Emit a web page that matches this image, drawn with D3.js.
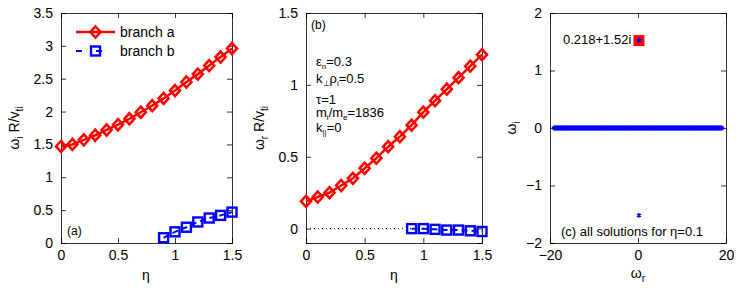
<!DOCTYPE html>
<html lang="en">
<head>
<meta charset="UTF-8">
<title>Branches</title>
<script src="https://cdn.jsdelivr.net/npm/d3@7"></script>
<style>
    body { margin: 0; background: #fff; }
    svg { font-family: "Liberation Sans", Arial, sans-serif; }
    .tick text { font-size: 14px; fill: #000; }
</style>
</head>
<body>
<svg id="svg" width="736" height="290"></svg>
<script>
// eta grid and the two branches
var eta = [0, 0.1, 0.2, 0.3, 0.4, 0.5, 0.6, 0.7, 0.8, 0.9, 1.0, 1.1, 1.2, 1.3, 1.4, 1.5];
var gammaA = [1.47, 1.50, 1.57, 1.64, 1.72, 1.80, 1.89, 1.99, 2.09, 2.20, 2.32, 2.45, 2.57, 2.70, 2.83, 2.96];
var etaB = [0.9, 1.0, 1.1, 1.2, 1.3, 1.4, 1.5];
var gammaB = [0.08, 0.17, 0.24, 0.32, 0.38, 0.42, 0.47];
var omegaA = [0.19, 0.22, 0.25, 0.30, 0.35, 0.42, 0.49, 0.57, 0.64, 0.72, 0.81, 0.89, 0.97, 1.05, 1.13, 1.21];
var omegaB = [0, 0, -0.005, -0.01, -0.01, -0.015, -0.02];
var dottedEta = [0, 0.9];

// all solutions for eta = 0.1
var contRe = [-19.1, -18.5, -18, -17.5, -17, -16.5, -16, -15.5, -15, -14.5, -14, -13.5, -13, -12.5, -12,
    -11.5, -11, -10.5, -10, -9.5, -9, -8.5, -8, -7.5, -7, -6.5, -6, -5.5, -5, -4.5, -4, -3.5, -3,
    -2.5, -2, -1.5, -1, -0.5, 0, 0.5, 1, 1.5, 2, 2.5, 3, 3.5, 4, 4.5, 5, 5.5, 6, 6.5, 7, 7.5, 8,
    8.5, 9, 9.5, 10, 10.5, 11, 11.5, 12, 12.5, 13, 13.5, 14, 14.5, 15, 15.5, 16, 16.5, 17, 17.5,
    18, 18.5, 19.1];
var rootsRe = [0.218, 0.218];
var rootsIm = [1.52, -1.52];

var xTicksEta = [0, 0.5, 1, 1.5];
var yTicksA = [0, 0.5, 1, 1.5, 2, 2.5, 3, 3.5];
var yTicksB = [0, 0.5, 1, 1.5];
var xTicksC = [-20, 0, 20];
var yTicksC = [-2, -1, 0, 1, 2];

var svg = d3.select("#svg");
var yTop = 13, yBottom = 243;
var diamondPath = "M0,-5.5L5,0L0,5.5L-5,0Z";

function panel(x0, x1, xdom, ydom, xt, yt) {
    var g = svg.append("g");
    var x = d3.scaleLinear().domain(xdom).range([x0, x1]);
    var y = d3.scaleLinear().domain(ydom).range([yBottom, yTop]);
    g.append("rect").attr("x", x0).attr("y", yTop).attr("width", x1 - x0).attr("height", yBottom - yTop)
        .attr("fill", "#fff");
    var fmt = function (d) { return d3.format("")(d).replace("-", "\u2212"); };
    g.append("g").attr("transform", "translate(0," + yBottom + ")")
        .call(d3.axisBottom(x).tickValues(xt).tickSize(-5).tickPadding(7).tickFormat(fmt));
    g.append("g").attr("transform", "translate(0," + yTop + ")")
        .call(d3.axisTop(x).tickValues(xt).tickSize(-5).tickFormat(""));
    g.append("g").attr("transform", "translate(" + x0 + ",0)")
        .call(d3.axisLeft(y).tickValues(yt).tickSize(-5).tickPadding(8).tickFormat(fmt));
    g.append("g").attr("transform", "translate(" + x1 + ",0)")
        .call(d3.axisRight(y).tickValues(yt).tickSize(-5).tickFormat(""));
    g.selectAll(".domain").attr("stroke", "#000").attr("stroke-width", 0.8);
    g.selectAll(".tick line").attr("stroke", "#000").attr("stroke-width", 0.8);
    return {g: g, x: x, y: y};
}

function diamonds(p, xs, ys) {
    p.g.append("path").datum(xs.map(function (d, i) { return [d, ys[i]]; }))
        .attr("fill", "none").attr("stroke", "#f00").attr("stroke-width", 2.5)
        .attr("d", d3.line().x(function (d) { return p.x(d[0]); }).y(function (d) { return p.y(d[1]); }));
    p.g.selectAll(".dia").data(xs).enter().append("path")
        .attr("transform", function (d, i) { return "translate(" + p.x(d) + "," + p.y(ys[i]) + ")"; })
        .attr("d", diamondPath)
        .attr("fill", "none").attr("stroke", "#f00").attr("stroke-width", 2.6);
}

function squares(p, xs, ys) {
    p.g.append("path").datum(xs.map(function (d, i) { return [d, ys[i]]; }))
        .attr("fill", "none").attr("stroke", "#00f").attr("stroke-width", 2)
        .attr("stroke-dasharray", "6,4")
        .attr("d", d3.line().x(function (d) { return p.x(d[0]); }).y(function (d) { return p.y(d[1]); }));
    p.g.selectAll(".sq").data(xs).enter().append("rect")
        .attr("x", function (d) { return p.x(d) - 4.5; })
        .attr("y", function (d, i) { return p.y(ys[i]) - 4.5; })
        .attr("width", 9).attr("height", 9)
        .attr("fill", "none").attr("stroke", "#00f").attr("stroke-width", 2.4);
}

// (a) growth rate
var pa = panel(61, 232, [0, 1.5], [0, 3.5], xTicksEta, yTicksA);
diamonds(pa, eta, gammaA);
squares(pa, etaB, gammaB);
pa.g.append("text").attr("x", 67).attr("y", 235).attr("font-size", 12).text("(a)");

var leg = pa.g.append("g");
leg.append("line").attr("x1", 76).attr("x2", 115).attr("y1", 32).attr("y2", 32)
    .attr("stroke", "#f00").attr("stroke-width", 2.5);
leg.append("path").attr("transform", "translate(95.5,32)").attr("d", diamondPath)
    .attr("fill", "none").attr("stroke", "#f00").attr("stroke-width", 2.6);
leg.append("text").attr("x", 120).attr("y", 37).attr("font-size", 14).text("branch a");
leg.append("line").attr("x1", 76).attr("x2", 115).attr("y1", 51).attr("y2", 51)
    .attr("stroke", "#00f").attr("stroke-width", 2).attr("stroke-dasharray", "6,14");
leg.append("rect").attr("x", 91).attr("y", 46.5).attr("width", 9).attr("height", 9)
    .attr("fill", "none").attr("stroke", "#00f").attr("stroke-width", 2.4);
leg.append("text").attr("x", 120).attr("y", 56).attr("font-size", 14).text("branch b");

var ylab = function (x, y, html) {
    svg.append("text").attr("transform", "translate(" + x + "," + y + ") rotate(-90)")
        .attr("text-anchor", "middle").attr("font-size", 14).html(html);
};
ylab(19, 128, "\u03c9<tspan font-size='10' dy='4'>i</tspan><tspan dy='-4'> R/v</tspan><tspan font-size='10' dy='4'>ti</tspan>");
svg.append("text").attr("x", 146).attr("y", 280).attr("text-anchor", "middle").attr("font-size", 14).text("\u03b7");

// (b) real frequency
var pb = panel(306, 482, [0, 1.5], [-0.1, 1.5], xTicksEta, yTicksB);
pb.g.append("line").attr("x1", pb.x(dottedEta[0])).attr("x2", pb.x(dottedEta[1]))
    .attr("y1", pb.y(0)).attr("y2", pb.y(0))
    .attr("stroke", "#000").attr("stroke-width", 1).attr("stroke-dasharray", "1,3");
diamonds(pb, eta, omegaA);
squares(pb, etaB, omegaB);
pb.g.append("text").attr("x", 311).attr("y", 29).attr("font-size", 12).text("(b)");
var notes = [
    [66, "\u03b5<tspan font-size='8' dy='3'>n</tspan><tspan dy='-3'>=0.3</tspan>"],
    [83, "k<tspan font-size='8' dy='3'>\u22a5</tspan><tspan dy='-3'>\u03c1</tspan><tspan font-size='8' dy='3'>i</tspan><tspan dy='-3'>=0.5</tspan>"],
    [104, "\u03c4=1"],
    [117, "m<tspan font-size='8' dy='3'>i</tspan><tspan dy='-3'>/m</tspan><tspan font-size='8' dy='3'>e</tspan><tspan dy='-3'>=1836</tspan>"],
    [132, "k<tspan font-size='8' dy='3'>||</tspan><tspan dy='-3'>=0</tspan>"]
];
notes.forEach(function (n) {
    pb.g.append("text").attr("x", 316).attr("y", n[0]).attr("font-size", 13).html(n[1]);
});
ylab(264, 128, "\u03c9<tspan font-size='10' dy='4'>r</tspan><tspan dy='-4'> R/v</tspan><tspan font-size='10' dy='4'>ti</tspan>");
svg.append("text").attr("x", 394).attr("y", 280).attr("text-anchor", "middle").attr("font-size", 14).text("\u03b7");

// (c) all solutions
var pc = panel(550, 726, [-20, 20], [-2, 2], xTicksC, yTicksC);
pc.g.append("rect").attr("x", pc.x(rootsRe[0]) - 5.5).attr("y", pc.y(rootsIm[0]) - 5.5)
    .attr("width", 11).attr("height", 11).attr("fill", "#f00");
var star = d3.symbol().type(d3.symbolAsterisk).size(16);
pc.g.selectAll(".cont").data(contRe).enter().append("path")
    .attr("transform", function (d) { return "translate(" + pc.x(d) + "," + pc.y(0) + ")"; })
    .attr("d", star).attr("fill", "none").attr("stroke", "#00f").attr("stroke-width", 1.4);
pc.g.append("line").attr("x1", pc.x(contRe[0])).attr("x2", pc.x(contRe[contRe.length - 1]))
    .attr("y1", pc.y(0)).attr("y2", pc.y(0)).attr("stroke", "#00f").attr("stroke-width", 5);
pc.g.selectAll(".root").data(rootsRe).enter().append("path")
    .attr("transform", function (d, i) { return "translate(" + pc.x(d) + "," + pc.y(rootsIm[i]) + ")"; })
    .attr("d", star).attr("fill", "none").attr("stroke", "#00f").attr("stroke-width", 1.4);
pc.g.append("text").attr("x", 563).attr("y", 44).attr("font-size", 13).text("0.218+1.52i");
pc.g.append("text").attr("x", 561).attr("y", 236).attr("font-size", 13).text("(c) all solutions for \u03b7=0.1");
ylab(516, 128, "\u03c9<tspan font-size='10' dy='4'>i</tspan>");
svg.append("text").attr("x", 638).attr("y", 278).attr("text-anchor", "middle").attr("font-size", 14)
    .html("\u03c9<tspan font-size='10' dy='4'>r</tspan>");
</script>
</body>
</html>
